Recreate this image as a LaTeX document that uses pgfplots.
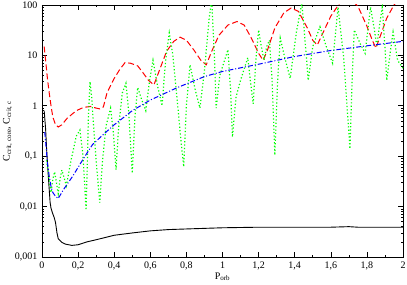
\documentclass[border=0pt]{standalone}
\usepackage{fontspec}
\setmainfont{Liberation Serif}
\usepackage{pgfplots}
\pgfplotsset{compat=1.18}
\definecolor{rd}{RGB}{255,0,0}
\definecolor{gr}{RGB}{0,255,0}
\definecolor{bl}{RGB}{0,0,255}
\begin{document}
\begin{tikzpicture}
\begin{axis}[
  scale only axis, width=361pt, height=252pt,
  ymode=log, xmin=0, xmax=2, ymin=0.001, ymax=100,
  xtick={0,0.2,0.4,0.6,0.8,1,1.2,1.4,1.6,1.8,2},
  xticklabels={0,{0,2},{0,4},{0,6},{0,8},1,{1,2},{1,4},{1,6},{1,8},2},
  ytick={0.001,0.01,0.1,1,10,100},
  yticklabels={{0,001},{0,01},{0,1},1,10,100},
  minor xtick={0.1,0.3,0.5,0.7,0.9,1.1,1.3,1.5,1.7,1.9},
  /pgf/number format/assume math mode=true,
  tick align=inside, tick pos=both,
  major tick length=5pt, minor tick length=2.5pt,
  every tick/.style={black, line width=0.6pt},
  axis line style={line width=0.8pt},
  ticklabel style={font=\fontsize{10}{12}\selectfont},
  xticklabel style={yshift=-1pt},
  yticklabel style={xshift=-1pt},
  xlabel={P\textsubscript{orb}},
  ylabel={C\textsubscript{crit, core}, C\textsubscript{crit, c}},
  label style={font=\fontsize{10}{12}\selectfont},
  xlabel style={yshift=4pt},
  ylabel style={yshift=-4pt},
]
% black
\addplot[black, line width=0.9pt] coordinates {
(0.012,0.8) (0.02,0.35) (0.026,0.13) (0.035,0.04) (0.045,0.012) (0.05,0.0093)
(0.058,0.0075) (0.068,0.006) (0.075,0.0048) (0.083,0.003) (0.09,0.0023) (0.11,0.00195)
(0.13,0.0018) (0.165,0.0017) (0.2,0.00175) (0.25,0.002) (0.3,0.0022) (0.4,0.0027)
(0.5,0.003) (0.6,0.0033) (0.7,0.0035) (0.8,0.0036) (0.9,0.0037) (1.0,0.0038)
(1.2,0.0039) (1.4,0.0039) (1.6,0.0039) (1.7,0.004) (1.75,0.0039) (2.0,0.0039)
};
% red dashed
\addplot[rd, line width=1pt, dash pattern=on 6pt off 3pt] coordinates {
(0.012,15) (0.02,8) (0.03,3.5) (0.04,1.8) (0.05,1.0) (0.06,0.6) (0.075,0.42)
(0.09,0.38) (0.11,0.42) (0.14,0.57) (0.19,0.8) (0.23,0.93) (0.27,0.97) (0.30,0.9)
(0.32,0.87) (0.34,0.95) (0.36,1.8) (0.40,3.5) (0.43,5.2) (0.46,7.2) (0.49,7.0)
(0.53,6.2) (0.56,4.5) (0.59,3.2) (0.62,2.6) (0.65,5) (0.69,12) (0.73,19) (0.765,23)
(0.80,20) (0.84,13) (0.88,8) (0.91,6.5) (0.94,12) (0.98,25) (1.03,40) (1.08,47)
(1.12,40) (1.16,22) (1.20,11) (1.225,8) (1.25,13) (1.29,35) (1.34,70) (1.38,87)
(1.42,75) (1.47,35) (1.50,20) (1.525,16) (1.55,25) (1.60,60) (1.65,110) (1.70,140)
(1.75,95) (1.80,38) (1.83,20) (1.85,14) (1.87,22) (1.91,55) (1.95,100) (2.0,160)
};
% green dotted
\addplot[gr, line width=1.2pt, dash pattern=on 1.2pt off 2.2pt] coordinates {
(0.025,0.083) (0.035,0.045) (0.045,0.025) (0.05,0.019) (0.06,0.035) (0.07,0.049)
(0.08,0.03) (0.09,0.018) (0.10,0.035) (0.11,0.053) (0.12,0.04) (0.135,0.026)
(0.16,0.08) (0.19,0.25) (0.21,0.33) (0.225,0.12) (0.235,0.035) (0.244,0.0085)
(0.25,0.05) (0.257,0.6) (0.266,3.0) (0.275,1.5) (0.29,0.25) (0.305,0.05) (0.32,0.012)
(0.335,0.08) (0.355,0.4) (0.38,0.9) (0.395,0.3) (0.41,0.054) (0.425,0.4) (0.445,1.8)
(0.465,2.8) (0.48,0.8) (0.50,0.046) (0.515,0.6) (0.53,2.3) (0.55,1.4) (0.575,0.8)
(0.595,3) (0.615,8) (0.64,2.5) (0.665,1.0) (0.685,8) (0.705,28) (0.725,10) (0.75,1.2)
(0.77,0.2) (0.785,0.062) (0.80,1.0) (0.82,6.5) (0.85,2) (0.875,0.9) (0.90,5)
(0.925,50) (0.94,130) (0.955,10) (0.965,0.9) (0.985,4) (1.03,13) (1.045,2)
(1.055,0.24) (1.075,1.5) (1.10,3.2) (1.14,9) (1.155,3) (1.17,1.1) (1.185,8) (1.2,32)
(1.215,15) (1.23,8) (1.245,15) (1.26,20) (1.275,3) (1.29,0.105) (1.305,3) (1.32,22)
(1.345,9) (1.375,3.5) (1.41,30) (1.44,110) (1.46,15) (1.475,3.2) (1.5,15) (1.54,37)
(1.575,15) (1.61,7) (1.64,90) (1.67,10) (1.69,1) (1.706,0.14) (1.72,5) (1.73,32)
(1.76,18) (1.79,11) (1.82,91) (1.84,35) (1.855,15) (1.87,40) (1.885,90) (1.90,15)
(1.91,3.2) (1.93,12) (1.945,29) (1.97,8) (2.0,5.6)
};
% blue dash-dot
\addplot[bl, line width=1pt, dash pattern=on 5pt off 2pt on 1pt off 2pt] coordinates {
(0.015,0.3) (0.02,0.2) (0.025,0.12) (0.03,0.075) (0.04,0.04) (0.05,0.025)
(0.06,0.019) (0.075,0.016) (0.09,0.0145) (0.12,0.022) (0.17,0.04) (0.23,0.09)
(0.28,0.17) (0.34,0.27) (0.40,0.42) (0.5,0.8) (0.6,1.3) (0.75,2.3) (0.9,3.8)
(1.0,4.8) (1.21,6.8) (1.4,9.5) (1.6,12.5) (1.8,15.5) (2.0,19)
};
\end{axis}
\pgfresetboundingbox
\path[use as bounding box] ([shift={(-42pt,-28pt)}]current axis.south west) rectangle ([shift={(4pt,5pt)}]current axis.north east);
\end{tikzpicture}
\end{document}
